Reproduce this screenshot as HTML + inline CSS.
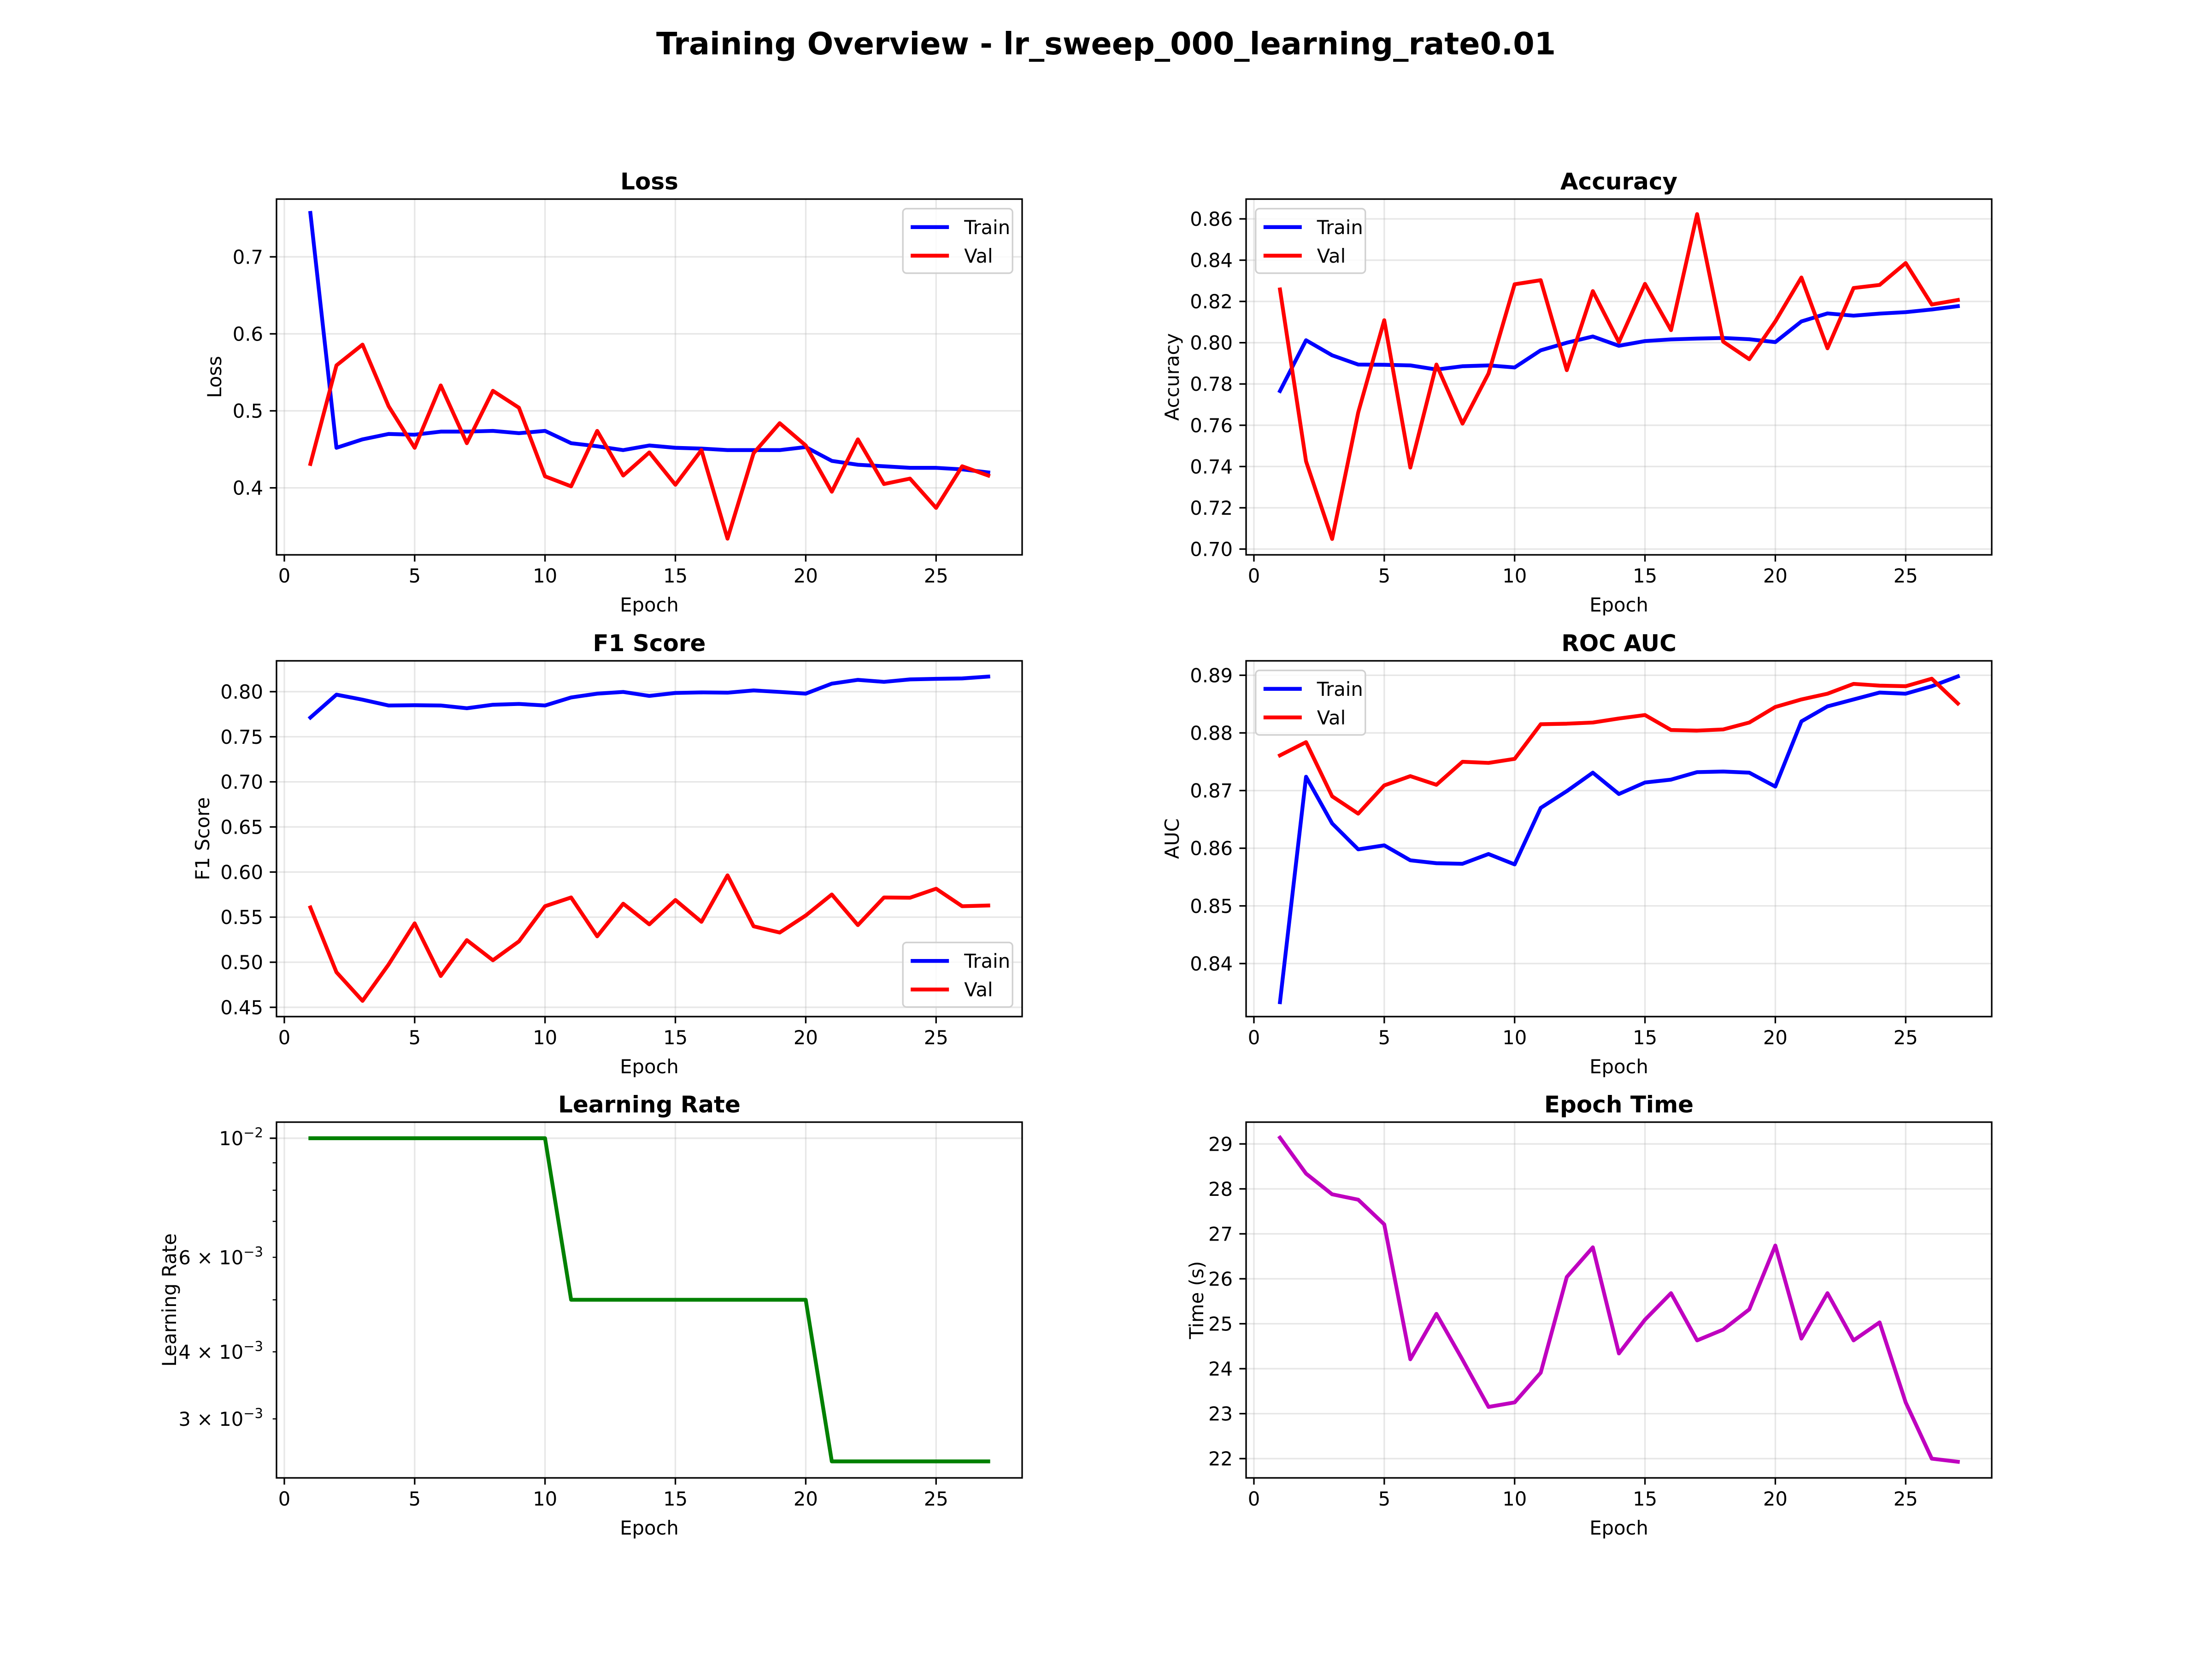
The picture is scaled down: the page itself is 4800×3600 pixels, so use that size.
<!DOCTYPE html>
<html><head><meta charset="utf-8">
<style>
html,body{margin:0;padding:0;background:#fff;}
svg{display:block;font-family:"DejaVu Sans","Liberation Sans",sans-serif;}
</style></head>
<body>
<svg id="fig" xmlns="http://www.w3.org/2000/svg" width="4800" height="3600" viewBox="0 0 4800 3600">
<rect x="0" y="0" width="4800" height="3600" fill="#fff"/>
<text x="2400" y="118" text-anchor="middle" font-size="66.7" font-weight="bold">Training Overview - lr_sweep_000_learning_rate0.01</text>
</svg>
<script>
const epochs = [1,2,3,4,5,6,7,8,9,10,11,12,13,14,15,16,17,18,19,20,21,22,23,24,25,26,27];
const xTicks = [0,5,10,15,20,25];
const lossTrain = [0.757,0.452,0.463,0.470,0.469,0.473,0.473,0.474,0.471,0.474,0.458,0.454,0.449,0.455,0.452,0.451,0.449,0.449,0.449,0.453,0.435,0.430,0.428,0.426,0.426,0.424,0.420];
const lossVal = [0.431,0.559,0.586,0.506,0.452,0.533,0.458,0.526,0.504,0.415,0.402,0.474,0.416,0.446,0.404,0.449,0.334,0.445,0.484,0.455,0.395,0.463,0.405,0.412,0.374,0.428,0.416];
const lossTicks = [0.4,0.5,0.6,0.7];
const lossTickLabels = ["0.4","0.5","0.6","0.7"];
const accTrain = [0.7766,0.8012,0.7939,0.7894,0.7893,0.789,0.787,0.7886,0.789,0.788,0.7963,0.800,0.803,0.7985,0.8008,0.8016,0.802,0.8023,0.8017,0.8003,0.8103,0.8142,0.8131,0.8141,0.8148,0.8161,0.8177];
const accVal = [0.8258,0.7425,0.7049,0.7662,0.8109,0.7395,0.7894,0.7608,0.7851,0.8283,0.8303,0.7867,0.825,0.8003,0.8285,0.8061,0.8623,0.8005,0.792,0.8103,0.8316,0.7973,0.8265,0.828,0.8386,0.8185,0.8207];
const accTicks = [0.70,0.72,0.74,0.76,0.78,0.80,0.82,0.84,0.86];
const accTickLabels = ["0.70","0.72","0.74","0.76","0.78","0.80","0.82","0.84","0.86"];
const f1Train = [0.7713,0.7967,0.7911,0.7847,0.785,0.7847,0.7816,0.7855,0.7864,0.7847,0.7936,0.7978,0.7997,0.7953,0.7986,0.7992,0.7989,0.8014,0.7997,0.7978,0.8089,0.8131,0.8109,0.8136,0.8142,0.8147,0.8167];
const f1Val = [0.5607,0.4889,0.4572,0.4975,0.5431,0.4847,0.5245,0.5022,0.5231,0.5621,0.5718,0.5287,0.5649,0.5420,0.5690,0.5448,0.5963,0.5398,0.5329,0.5518,0.5751,0.5412,0.5718,0.5715,0.5815,0.5621,0.5629];
const f1Ticks = [0.45,0.50,0.55,0.60,0.65,0.70,0.75,0.80];
const f1TickLabels = ["0.45","0.50","0.55","0.60","0.65","0.70","0.75","0.80"];
const aucTrain = [0.8333,0.8724,0.8643,0.8598,0.8605,0.8579,0.8574,0.8573,0.8590,0.8572,0.8670,0.8699,0.8731,0.8694,0.8714,0.8719,0.8732,0.8733,0.8731,0.8707,0.8820,0.8846,0.8858,0.8870,0.8868,0.8881,0.8898];
const aucVal = [0.8761,0.8784,0.8690,0.8660,0.8709,0.8725,0.8710,0.8750,0.8748,0.8755,0.8815,0.8816,0.8818,0.8825,0.8831,0.8805,0.8804,0.8806,0.8818,0.8845,0.8858,0.8868,0.8885,0.8882,0.8881,0.8894,0.8851];
const aucTicks = [0.84,0.85,0.86,0.87,0.88,0.89];
const aucTickLabels = ["0.84","0.85","0.86","0.87","0.88","0.89"];
const lrValues = [0.01,0.01,0.01,0.01,0.01,0.01,0.01,0.01,0.01,0.01,0.005,0.005,0.005,0.005,0.005,0.005,0.005,0.005,0.005,0.005,0.0025,0.0025,0.0025,0.0025,0.0025,0.0025,0.0025];
const timeValues = [29.14,28.34,27.88,27.76,27.21,24.21,25.22,24.2,23.15,23.25,23.91,26.04,26.70,24.34,25.09,25.68,24.63,24.87,25.32,26.74,24.67,25.68,24.63,25.03,23.25,22.0,21.93];
const timeTicks = [22,23,24,25,26,27,28,29];
const timeTickLabels = ["22","23","24","25","26","27","28","29"];
const lrMajorTicks = [0.01];
const lrMinorTicks = [0.003,0.004,0.005,0.006,0.007,0.008,0.009];
const lrLabeledMinor = [0.006,0.004,0.003];

const NS = "http://www.w3.org/2000/svg";
const fig = document.getElementById('fig');
function mk(tag, attrs, parent){
  const e = document.createElementNS(NS, tag);
  for (const k in attrs) e.setAttribute(k, attrs[k]);
  (parent||fig).appendChild(e);
  return e;
}
const FS = 41.67, LW = 8.33, SW = 3.33;
const COLS = [600, 2704], W = 1618;
const ROWS = [432, 1434, 2435], H = 772;
let clipId = 0;

function panel(cfg){
  const L = COLS[cfg.col], T = ROWS[cfg.row], R = L + W, B = T + H;
  const g = mk('g', {});
  
  
  const xs = v => L + (v - (-0.3)) / 28.6 * W;
  const ys = cfg.log
    ? v => B - (Math.log10(v) - Math.log10(cfg.ymin)) / (Math.log10(cfg.ymax) - Math.log10(cfg.ymin)) * H
    : v => B - (v - cfg.ymin) / (cfg.ymax - cfg.ymin) * H;
  xTicks.forEach(t => {
    const ln = mk('line', {x1: xs(t), x2: xs(t), y1: T, y2: B, stroke: '#b0b0b0', 'stroke-opacity': 0.3, 'stroke-width': SW}, g);
    
    
  });
  cfg.yTicks.forEach(t => {
    const ln = mk('line', {x1: L, x2: R, y1: ys(t), y2: ys(t), stroke: '#b0b0b0', 'stroke-opacity': 0.3, 'stroke-width': SW}, g);
    
    
  });
  clipId++;
  const cp = mk('clipPath', {id: 'clip' + clipId}, g);
  mk('rect', {x: L, y: T, width: W, height: H}, cp);
  cfg.series.forEach(s => {
    const pts = epochs.map((e, i) => xs(e).toFixed(1) + ',' + ys(s.values[i]).toFixed(1)).join(' ');
    const pl = mk('polyline', {points: pts, fill: 'none', stroke: s.color, 'stroke-width': LW, 'stroke-linejoin': 'round', 'stroke-linecap': 'square', 'clip-path': 'url(#clip' + clipId + ')'}, g);
    
    
  });
  const sp = mk('rect', {x: L, y: T, width: W, height: H, fill: 'none', stroke: '#000', 'stroke-width': SW}, g);
  
  
  xTicks.forEach(t => {
    mk('line', {x1: xs(t), x2: xs(t), y1: B, y2: B + 14.6, stroke: '#000', 'stroke-width': SW}, g);
    const tx = mk('text', {x: xs(t), y: B + 29 + 31, 'text-anchor': 'middle', 'font-size': FS}, g);
    tx.textContent = String(t);
    
    
  });
  if (!cfg.log) {
    cfg.yTicks.forEach((t, i) => {
      mk('line', {x1: L - 14.6, x2: L, y1: ys(t), y2: ys(t), stroke: '#000', 'stroke-width': SW}, g);
      const tx = mk('text', {x: L - 29, y: ys(t) + 15, 'text-anchor': 'end', 'font-size': FS}, g);
      tx.textContent = cfg.yTickLabels[i];
      
      
    });
  } else {
    lrMajorTicks.forEach(t => {
      mk('line', {x1: L - 14.6, x2: L, y1: ys(t), y2: ys(t), stroke: '#000', 'stroke-width': SW}, g);
      const tx = mk('text', {x: L - 29, y: ys(t) + 15, 'text-anchor': 'end', 'font-size': FS}, g);
      
      
      tx.innerHTML = '10<tspan dy="-17" font-size="29">\u22122</tspan>';
    });
    lrMinorTicks.forEach(t => {
      mk('line', {x1: L - 8.3, x2: L, y1: ys(t), y2: ys(t), stroke: '#000', 'stroke-width': 2.5}, g);
    });
    lrLabeledMinor.forEach(t => {
      const m = Math.round(t * 1000);
      const tx = mk('text', {x: L - 29, y: ys(t) + 15, 'text-anchor': 'end', 'font-size': FS}, g);
      
      
      tx.innerHTML = m + ' \u00d7 10<tspan dy="-17" font-size="29">\u22123</tspan>';
    });
  }
  const tt = mk('text', {x: (L + R) / 2, y: T - 21, 'text-anchor': 'middle', 'font-size': 50, 'font-weight': 'bold'}, g);
  tt.textContent = cfg.title;
  
  
  const xl = mk('text', {x: (L + R) / 2, y: B + 123, 'text-anchor': 'middle', 'font-size': FS}, g);
  xl.textContent = 'Epoch';
  
  
  const yl = mk('text', {x: 0, y: 0, 'text-anchor': 'middle', 'font-size': FS, transform: 'translate(' + (cfg.ylx + 15) + ',' + ((T + B) / 2) + ') rotate(-90)'}, g);
  yl.textContent = cfg.ylabel;
  
  
  if (cfg.legend) {
    const lw = 238, lh = 140, pad = 20.8;
    let lx, ly;
    if (cfg.legend === 'ur') { lx = R - pad - lw; ly = T + pad; }
    else if (cfg.legend === 'ul') { lx = L + pad; ly = T + pad; }
    else { lx = R - pad - lw; ly = B - pad - lh; }
    const lg = mk('g', {}, g);
    
    
    mk('rect', {x: lx, y: ly, width: lw, height: lh, rx: 8, fill: '#fff', 'fill-opacity': 0.8, stroke: '#d0d0d0', 'stroke-width': 3.3}, lg);
    cfg.series.forEach((s, i) => {
      const cy = ly + 40 + i * 62;
      const e = mk('g', {}, lg);
      
      
      mk('line', {x1: lx + 17, x2: lx + 100, y1: cy, y2: cy, stroke: s.color, 'stroke-width': LW}, e);
      const tx = mk('text', {x: lx + 133, y: cy + 15, 'font-size': FS}, e);
      tx.textContent = s.label;
    });
  }
}

panel({name:'loss', title:'Loss', col:0, row:0, ymin:0.313, ymax:0.775, yTicks:lossTicks, yTickLabels:lossTickLabels, ylabel:'Loss', ylx:465, legend:'ur',
  series:[{name:'loss-train-line', label:'Train', color:'#0000ff', values:lossTrain},{name:'loss-val-line', label:'Val', color:'#ff0000', values:lossVal}]});
panel({name:'accuracy', title:'Accuracy', col:1, row:0, ymin:0.6972, ymax:0.8696, yTicks:accTicks, yTickLabels:accTickLabels, ylabel:'Accuracy', ylx:2543, legend:'ul',
  series:[{name:'accuracy-train-line', label:'Train', color:'#0000ff', values:accTrain},{name:'accuracy-val-line', label:'Val', color:'#ff0000', values:accVal}]});
panel({name:'f1', title:'F1 Score', col:0, row:1, ymin:0.4397, ymax:0.8342, yTicks:f1Ticks, yTickLabels:f1TickLabels, ylabel:'F1 Score', ylx:439, legend:'lr',
  series:[{name:'f1-train-line', label:'Train', color:'#0000ff', values:f1Train},{name:'f1-val-line', label:'Val', color:'#ff0000', values:f1Val}]});
panel({name:'roc-auc', title:'ROC AUC', col:1, row:1, ymin:0.8308, ymax:0.8925, yTicks:aucTicks, yTickLabels:aucTickLabels, ylabel:'AUC', ylx:2543, legend:'ul',
  series:[{name:'auc-train-line', label:'Train', color:'#0000ff', values:aucTrain},{name:'auc-val-line', label:'Val', color:'#ff0000', values:aucVal}]});
panel({name:'learning-rate', title:'Learning Rate', col:0, row:2, log:true, ymin:0.002329, ymax:0.010715, yTicks:lrMajorTicks, ylabel:'Learning Rate', ylx:367,
  series:[{name:'learning-rate-line', label:'LR', color:'#008000', values:lrValues}]});
panel({name:'epoch-time', title:'Epoch Time', col:1, row:2, ymin:21.571, ymax:29.485, yTicks:timeTicks, yTickLabels:timeTickLabels, ylabel:'Time (s)', ylx:2596,
  series:[{name:'epoch-time-line', label:'Time', color:'#bf00bf', values:timeValues}]});
</script>
</body></html>
